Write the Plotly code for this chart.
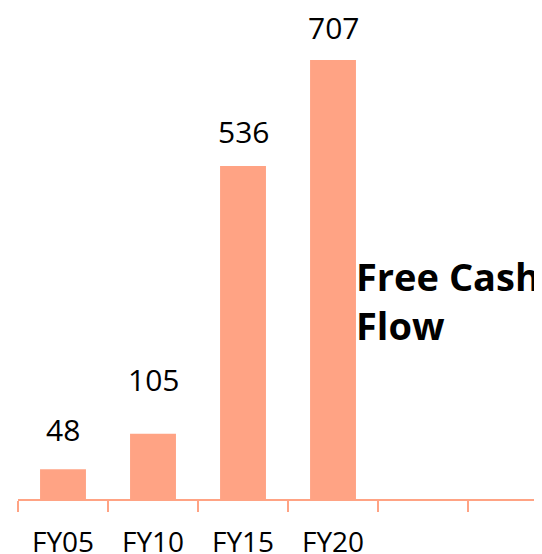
import plotly.graph_objects as go

categories = ["FY05", "FY10", "FY15", "FY20", " ", "  "]
values = [48, 105, 536, 707, None, None]
value_labels = ["48", "105", "536", "707"]
title_text = "Free Cash<br>Flow"

# pixel offsets of each value label above its bar (style only)
label_yshift = [17, 32, 12, 10]

BAR = "#FFA384"
FONT = "Open Sans, Noto Sans, sans-serif"

fig = go.Figure()
fig.add_trace(go.Bar(x=categories, y=values, marker=dict(color=BAR, line=dict(width=0)),
                     width=0.51, hoverinfo="skip"))

for c, v, t, s in zip(categories, values, value_labels, label_yshift):
    fig.add_annotation(x=c, y=v, text=t, showarrow=False, yanchor="bottom", yshift=s,
                       font=dict(family=FONT, size=30, color="#000000"))

fig.add_annotation(xref="paper", yref="paper", x=0.641, y=0.405, xanchor="left", yanchor="middle",
                   align="left", text="<b>" + title_text + "</b>", showarrow=False,
                   font=dict(family=FONT, size=38, color="#000000"))

fig.update_layout(
    width=534, height=546,
    margin=dict(l=10, r=0, t=0, b=54.5, autoexpand=False),
    paper_bgcolor="white", plot_bgcolor="white",
    showlegend=False,
    xaxis=dict(type="category", categoryorder="array", categoryarray=categories,
               range=[-0.5, 5.322], tickson="boundaries", ticks="outside", ticklen=11,
               tickwidth=2, tickcolor=BAR, showline=True, linecolor=BAR, linewidth=2,
               showgrid=False, zeroline=False, automargin=False, ticklabelstandoff=17,
               tickfont=dict(family=FONT, size=28, color="#000000")),
    yaxis=dict(range=[0, 790.6], visible=False, showgrid=False, zeroline=False, automargin=False),
)

fig.write_html("out.html")
